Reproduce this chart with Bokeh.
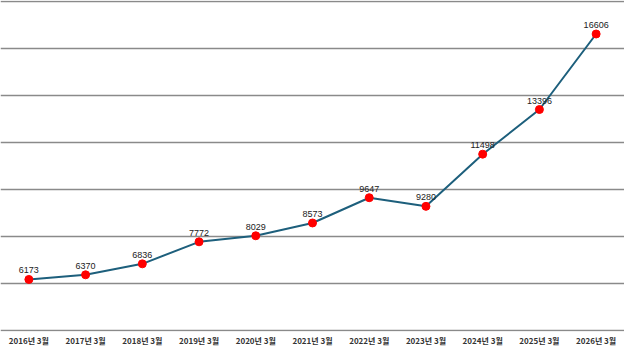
from bokeh.plotting import figure
from bokeh.models import ColumnDataSource, Range1d, FixedTicker
from bokeh.core.properties import value
from bokeh.embed import file_html
from bokeh.resources import INLINE

categories = ["2016년 3월", "2017년 3월", "2018년 3월", "2019년 3월", "2020년 3월",
              "2021년 3월", "2022년 3월", "2023년 3월", "2024년 3월", "2025년 3월", "2026년 3월"]
values = [6173, 6370, 6836, 7772, 8029, 8573, 9647, 9280, 11498, 13396, 16606]
y_ticks = [4000, 6000, 8000, 10000, 12000, 14000, 16000, 18000]

src = ColumnDataSource(dict(x=categories, y=values, lbl=[str(v) for v in values]))

p = figure(x_range=categories, y_range=Range1d(3960, 18030), frame_width=624, frame_height=331,
           output_backend="svg", toolbar_location=None,
           min_border_left=0, min_border_right=0, min_border_top=0, min_border_bottom=0)
p.outline_line_color = None
p.background_fill_color = "white"
p.border_fill_color = "white"

p.yaxis.visible = False
p.yaxis.ticker = FixedTicker(ticks=y_ticks)
p.ygrid.ticker = FixedTicker(ticks=y_ticks)
p.ygrid.grid_line_color = "#8a8a8a"
p.ygrid.grid_line_width = 1.5
p.xgrid.grid_line_color = None

p.xaxis.axis_line_color = None
p.xaxis.major_tick_line_color = None
p.xaxis.minor_tick_line_color = None
p.xaxis.major_tick_out = 0
p.xaxis.major_tick_in = 0
p.xaxis.major_label_text_font = "Noto Sans CJK KR"
p.xaxis.major_label_text_font_style = "bold"
p.xaxis.major_label_text_font_size = "8px"
p.xaxis.major_label_text_color = "#333333"
p.xaxis.major_label_standoff = 3

p.line("x", "y", source=src, line_color="#1d5f7c", line_width=2)
p.scatter("x", "y", source=src, size=8, fill_color="#ff0000", line_color="#ff0000")
p.text("x", "y", text="lbl", source=src, text_font=value("Liberation Sans"),
       text_font_size="9px", text_color="#222222", text_align="center",
       text_baseline="bottom", y_offset=-6)

open("out.html", "w").write(file_html(p, INLINE))
